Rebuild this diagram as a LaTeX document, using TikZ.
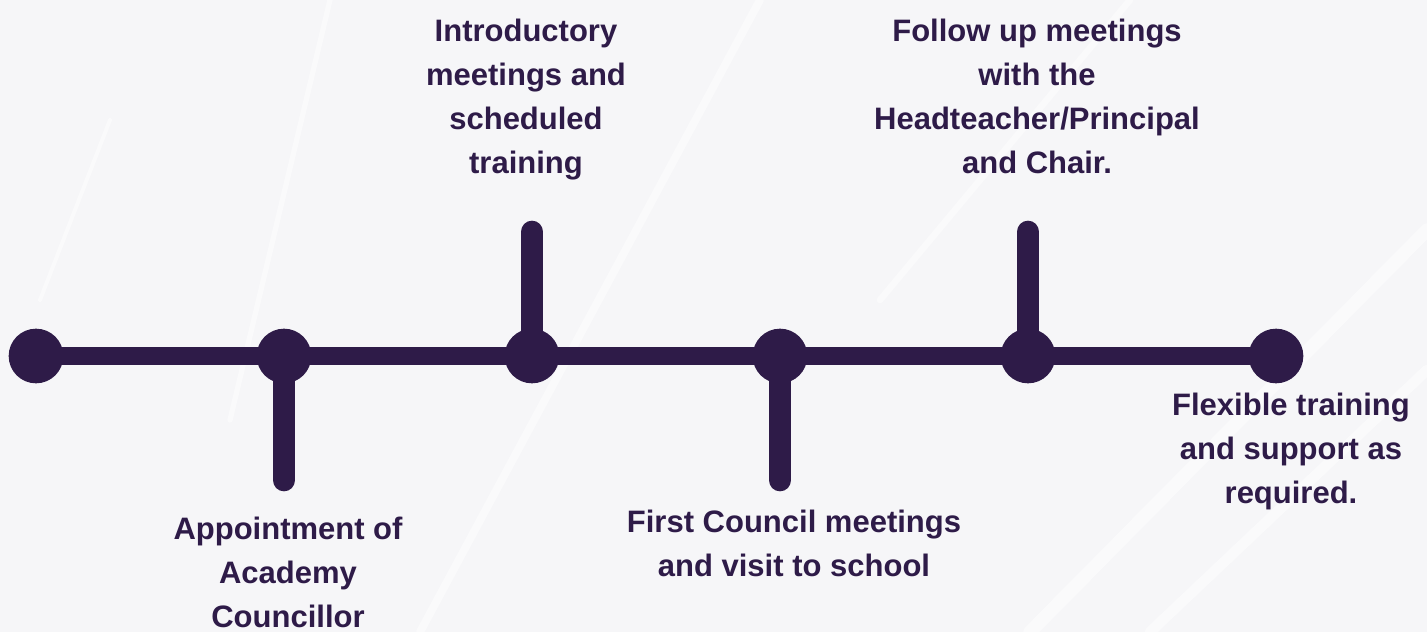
\documentclass[tikz,border=0pt]{standalone}
\usepackage{fontspec}
\setmainfont{Liberation Sans}[BoldFont={Liberation Sans Bold}]
\definecolor{tlpurple}{RGB}{46,27,72}
\definecolor{bggray}{RGB}{246,246,248}
\tikzset{
  dot/.style={circle, fill=tlpurple, inner sep=0pt, minimum size=41pt},
  mainline/.style={draw=tlpurple, line width=13.5pt},
  stem/.style={draw=tlpurple, line width=17pt, line cap=round},
  lbl/.style={inner sep=0pt, align=center, text=tlpurple,
    font=\bfseries\fontsize{23.25pt}{33pt}\selectfont},
  streak/.style={draw=white, line cap=round, opacity=0.45}
}
\begin{document}
\begin{tikzpicture}[x=0.75pt, y=-0.75pt]
  % background
  \fill[bggray] (0,0) rectangle (1427,632);
  \useasboundingbox (0,0) rectangle (1427,632);
  \draw[streak, line width=6pt] (420,632) -- (760,0);
  \draw[streak, line width=4pt] (230,420) -- (330,0);
  \draw[streak, line width=10pt] (1030,632) -- (1427,230);
  \draw[streak, line width=8pt] (1150,632) -- (1427,370);
  \draw[streak, line width=5pt] (880,300) -- (1130,0);
  \draw[streak, line width=3pt] (40,300) -- (110,120);

  % timeline dots
  \node[dot] (c1) at (36,356) {};
  \node[dot] (c2) at (284,356) {};
  \node[dot] (c3) at (532,356) {};
  \node[dot] (c4) at (780,356) {};
  \node[dot] (c5) at (1028,356) {};
  \node[dot] (c6) at (1276,356) {};

  % stem ends
  \coordinate (s2) at (284,480);
  \coordinate (s3) at (532,232);
  \coordinate (s4) at (780,480);
  \coordinate (s5) at (1028,232);

  % main line and stems
  \draw[mainline] (c1.center) -- (c6.center);
  \draw[stem] (c2.center) -- (s2);
  \draw[stem] (c3.center) -- (s3);
  \draw[stem] (c4.center) -- (s4);
  \draw[stem] (c5.center) -- (s5);

  % labels
  \node[lbl, anchor=north] (t3) at (526,19) {Introductory\\meetings and\\scheduled\\training};
  \node[lbl, anchor=north] (t5) at (1037,19) {Follow up meetings\\with the\\Headteacher/Principal\\and Chair.};
  \node[lbl, anchor=north] (t6) at (1291,393) {Flexible training\\and support as\\required.};
  \node[lbl, anchor=north] (t2) at (288,517) {Appointment of\\Academy\\Councillor};
  \node[lbl, anchor=north] (t4) at (794,510) {First Council meetings\\and visit to school};
\end{tikzpicture}
\end{document}
